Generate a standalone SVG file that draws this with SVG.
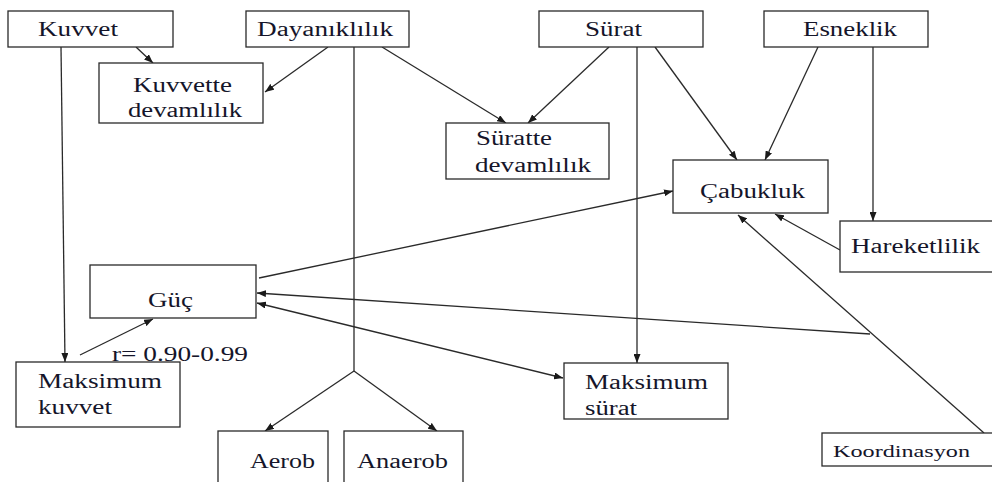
<svg xmlns="http://www.w3.org/2000/svg" width="992" height="482" viewBox="0 0 992 482">
<style>
.box{fill:#fff;stroke:#2a2a2a;stroke-width:1.3}
.t{font-family:"Liberation Serif","Times New Roman",serif;font-size:20px;fill:#15152a}
.s{font-size:16px}
.ln{fill:none;stroke:#2a2a2a;stroke-width:1.3}
.ar{marker-end:url(#ah)}
</style>
<defs>
<marker id="ah" viewBox="0 0 9 7" refX="9" refY="3.5" markerWidth="9" markerHeight="7" markerUnits="userSpaceOnUse" orient="auto-start-reverse">
<path d="M0,0 L9,3.5 L0,7 z" fill="#1a1a1a"/>
</marker>
</defs>
<rect width="992" height="482" fill="#fff"/>
<g id="connectors">
<line class="ln ar" x1="61" y1="47" x2="65" y2="362"/>
<line class="ln ar" x1="136" y1="47" x2="153" y2="63"/>
<line class="ln ar" x1="328" y1="47" x2="265" y2="92"/>
<polyline class="ln" points="354,47 354,371"/>
<line class="ln ar" x1="354" y1="371" x2="265" y2="431"/>
<line class="ln ar" x1="354" y1="371" x2="437" y2="431"/>
<line class="ln ar" x1="382" y1="47" x2="506" y2="123"/>
<line class="ln ar" x1="609" y1="47" x2="528" y2="123"/>
<line class="ln ar" x1="637" y1="47" x2="637" y2="363"/>
<line class="ln ar" x1="655" y1="47" x2="737" y2="160"/>
<line class="ln ar" x1="818" y1="47" x2="765" y2="160"/>
<line class="ln ar" x1="873" y1="47" x2="873" y2="221"/>
<line class="ln ar" x1="840" y1="250" x2="775" y2="214"/>
<line class="ln ar" x1="984" y1="433" x2="738" y2="215"/>
<line class="ln ar" x1="259" y1="278" x2="673" y2="191"/>
<line class="ln ar" x1="870" y1="334" x2="257" y2="293"/>
<line class="ln ar" x1="257" y1="303" x2="563" y2="378" style="marker-start:url(#ah)"/>
<line class="ln ar" x1="80" y1="355" x2="153" y2="319"/>
</g>
<g id="kuvvet"><rect class="box" x="8" y="11" width="165" height="36"/><text class="t" x="38" y="36" textLength="80" lengthAdjust="spacingAndGlyphs">Kuvvet</text></g>
<g id="dayaniklilik"><rect class="box" x="246" y="11" width="163" height="36"/><text class="t" x="257" y="36" textLength="136" lengthAdjust="spacingAndGlyphs">Dayanıklılık</text></g>
<g id="surat"><rect class="box" x="539" y="11" width="164" height="36"/><text class="t" x="585" y="36" textLength="57" lengthAdjust="spacingAndGlyphs">Sürat</text></g>
<g id="esneklik"><rect class="box" x="764" y="11" width="164" height="36"/><text class="t" x="803" y="36" textLength="94" lengthAdjust="spacingAndGlyphs">Esneklik</text></g>
<g id="kuvvette-devamlilik"><rect class="box" x="99" y="63" width="164" height="60"/><text class="t" x="133" y="92" textLength="99" lengthAdjust="spacingAndGlyphs">Kuvvette</text><text class="t" x="128" y="117" textLength="114" lengthAdjust="spacingAndGlyphs">devamlılık</text></g>
<g id="suratte-devamlilik"><rect class="box" x="446" y="123" width="163" height="56"/><text class="t" x="476" y="145" textLength="76" lengthAdjust="spacingAndGlyphs">Süratte</text><text class="t" x="475" y="172" textLength="116" lengthAdjust="spacingAndGlyphs">devamlılık</text></g>
<g id="cabukluk"><rect class="box" x="673" y="160" width="155" height="53"/><text class="t" x="700" y="198" textLength="105" lengthAdjust="spacingAndGlyphs">Çabukluk</text></g>
<g id="hareketlilik"><rect class="box" x="840" y="221" width="160" height="51"/><text class="t" x="851" y="253" textLength="129" lengthAdjust="spacingAndGlyphs">Hareketlilik</text></g>
<g id="guc"><rect class="box" x="90" y="265" width="166" height="53"/><text class="t" x="148" y="307" textLength="45" lengthAdjust="spacingAndGlyphs">Güç</text></g>
<g id="r-label"><text class="t" x="112" y="361" textLength="136" lengthAdjust="spacingAndGlyphs">r= 0.90-0.99</text></g>
<g id="maksimum-kuvvet"><rect class="box" x="16" y="362" width="164" height="65"/><text class="t" x="38" y="388" textLength="124" lengthAdjust="spacingAndGlyphs">Maksimum</text><text class="t" x="38" y="414" textLength="74" lengthAdjust="spacingAndGlyphs">kuvvet</text></g>
<g id="maksimum-surat"><rect class="box" x="564" y="363" width="164" height="56"/><text class="t" x="585" y="389" textLength="123" lengthAdjust="spacingAndGlyphs">Maksimum</text><text class="t" x="585" y="415" textLength="52" lengthAdjust="spacingAndGlyphs">sürat</text></g>
<g id="aerob"><rect class="box" x="218" y="431" width="110" height="60"/><text class="t" x="250" y="468" textLength="65" lengthAdjust="spacingAndGlyphs">Aerob</text></g>
<g id="anaerob"><rect class="box" x="344" y="431" width="119" height="60"/><text class="t" x="357" y="468" textLength="91" lengthAdjust="spacingAndGlyphs">Anaerob</text></g>
<g id="koordinasyon"><rect class="box" x="822" y="433" width="180" height="33"/><text class="t s" x="833" y="457" textLength="137" lengthAdjust="spacingAndGlyphs">Koordinasyon</text></g>
</svg>
